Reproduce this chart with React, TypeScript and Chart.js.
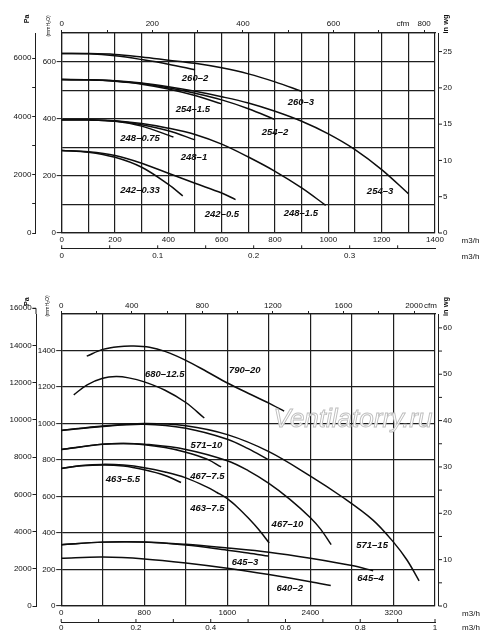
import React, { useEffect, useRef } from "react";
import { Chart, registerables } from "chart.js";
Chart.register(...registerables);

type Pt = [number, number];
type Lbl = [string, number, number];

const PA_PER_MMH2O = 9.80665;
const MMH2O_PER_INWG = 25.4;
const M3H_PER_CFM = 1.699011;
const M3H_PER_M3S = 3600;

// ================= upper chart: flow m3/h, pressure mmH2O =================
const top260_3: Pt[] = [[0, 628], [100, 628], [200, 625], [300, 616], [400, 605], [500, 594], [600, 578], [700, 557], [800, 529], [900, 496]];
const top260_2: Pt[] = [[0, 628], [100, 627], [200, 620], [300, 607], [400, 591], [500, 571]];
const top254_3: Pt[] = [[0, 537], [100, 536], [200, 533], [300, 525], [400, 512], [500, 496], [600, 477], [700, 455], [800, 426], [900, 391], [1000, 347], [1100, 292], [1200, 222], [1300, 138]];
const top254_2: Pt[] = [[0, 537], [100, 536], [200, 532], [300, 523], [400, 508], [500, 489], [600, 466], [700, 435], [800, 397]];
const top254_15: Pt[] = [[0, 537], [100, 536], [200, 531], [300, 521], [400, 504], [500, 481], [600, 452]];
const top248_15: Pt[] = [[0, 396], [100, 396], [200, 393], [300, 383], [400, 367], [500, 345], [600, 311], [700, 266], [800, 216], [900, 158], [990, 97]];
const top248_1: Pt[] = [[0, 396], [100, 396], [200, 392], [300, 379], [400, 358], [500, 326]];
const top248_075: Pt[] = [[0, 396], [100, 396], [200, 391], [300, 374], [419, 336]];
const top242_05: Pt[] = [[0, 289], [100, 284], [200, 271], [300, 244], [400, 209], [500, 174], [600, 140], [652, 117]];
const top242_033: Pt[] = [[0, 289], [100, 283], [200, 265], [300, 230], [400, 170], [454, 130]];

const topCurveLabels: Lbl[] = [
  ["260–2", 500, 540], ["260–3", 897, 456], ["254–1.5", 492, 432], ["254–2", 800, 352],
  ["248–0.75", 294, 331], ["248–1", 496, 265], ["242–0.33", 294, 150], ["242–0.5", 601, 66],
  ["248–1.5", 897, 70], ["254–3", 1194, 146],
];

const topFlowTicks = [0, 100, 200, 300, 400, 500, 600, 700, 800, 900, 1000, 1100, 1200, 1300, 1400];
const topFlowLabels = [0, 200, 400, 600, 800, 1000, 1200, 1400];
const topFlowSTicks = [0, 0.05, 0.1, 0.15, 0.2, 0.25, 0.3, 0.35];
const topFlowSLabels = [0, 0.1, 0.2, 0.3];
const topCfmTicks = [0, 100, 200, 300, 400, 500, 600, 700, 800];
const topCfmLabels = [0, 200, 400, 600, 800];
const topPresTicks = [0, 100, 200, 300, 400, 500, 600, 700];
const topPresLabels = [0, 200, 400, 600];
const topPaTicks = [0, 1000, 2000, 3000, 4000, 5000, 6000];
const topPaLabels = [0, 2000, 4000, 6000];
const topInwgTicks = [0, 5, 10, 15, 20, 25];
const topInwgLabels = [0, 5, 10, 15, 20, 25];

// ================= lower chart =================
const bot790_20: Pt[] = [[246, 1369], [400, 1406], [550, 1421], [700, 1424], [850, 1418], [1000, 1395], [1200, 1346], [1400, 1285], [1600, 1222], [1800, 1166], [2000, 1112], [2147, 1068]];
const bot680_125: Pt[] = [[121, 1157], [250, 1212], [400, 1248], [529, 1257], [650, 1250], [800, 1228], [1000, 1182], [1200, 1115], [1378, 1030]];
const bot571_15: Pt[] = [[0, 962], [400, 986], [800, 1000], [1200, 988], [1600, 939], [2000, 846], [2400, 712], [2700, 600], [3000, 472], [3200, 350], [3330, 252], [3447, 138]];
const bot571_10: Pt[] = [[0, 962], [400, 984], [800, 996], [1200, 974], [1600, 914], [1800, 862], [1990, 803]];
const bot467_10: Pt[] = [[0, 857], [400, 887], [600, 891], [800, 887], [1200, 858], [1600, 796], [1800, 742], [2000, 672], [2200, 586], [2400, 484], [2500, 420], [2600, 336]];
const bot467_75: Pt[] = [[0, 857], [400, 886], [600, 890], [800, 884], [1000, 868], [1200, 843], [1400, 806], [1540, 762]];
const bot463_75: Pt[] = [[0, 754], [200, 770], [400, 776], [600, 772], [800, 758], [1000, 734], [1200, 702], [1400, 653], [1500, 622], [1600, 588], [1700, 540], [1800, 483], [1900, 420], [2003, 345]];
const bot463_55: Pt[] = [[0, 754], [200, 768], [400, 773], [600, 767], [800, 746], [1000, 715], [1154, 677]];
const bot645_4: Pt[] = [[0, 336], [400, 350], [800, 351], [1200, 338], [1600, 318], [2000, 295], [2400, 262], [2800, 222], [3004, 193]];
const bot645_3: Pt[] = [[0, 336], [400, 350], [800, 350], [1200, 334], [1600, 306], [1800, 291], [1995, 274]];
const bot640_2: Pt[] = [[0, 262], [400, 268], [800, 258], [1200, 236], [1600, 207], [2000, 172], [2400, 133], [2596, 112]];

const botCurveLabels: Lbl[] = [
  ["790–20", 1768, 1289], ["680–12.5", 997, 1269], ["571–10", 1399, 878], ["467–7.5", 1408, 712],
  ["463–5.5", 595, 694], ["463–7.5", 1408, 533], ["467–10", 2179, 446], ["571–15", 2994, 332],
  ["645–3", 1770, 237], ["645–4", 2979, 149], ["640–2", 2201, 94],
];

const botFlowTicks = [0, 400, 800, 1200, 1600, 2000, 2400, 2800, 3200, 3600];
const botFlowLabels = [0, 800, 1600, 2400, 3200];
const botFlowSTicks = [0, 0.1, 0.2, 0.3, 0.4, 0.5, 0.6, 0.7, 0.8, 0.9, 1];
const botFlowSLabels = [0, 0.2, 0.4, 0.6, 0.8, 1];
const botCfmTicks = [0, 200, 400, 600, 800, 1000, 1200, 1400, 1600, 1800, 2000];
const botCfmLabels = [0, 400, 800, 1200, 1600, 2000];
const botPresTicks = [0, 200, 400, 600, 800, 1000, 1200, 1400, 1600];
const botPresLabels = [0, 200, 400, 600, 800, 1000, 1200, 1400];
const botPaTicks = [0, 2000, 4000, 6000, 8000, 10000, 12000, 14000, 16000];
const botPaLabels = [0, 2000, 4000, 6000, 8000, 10000, 12000, 14000, 16000];
const botInwgTicks = [0, 5, 10, 15, 20, 25, 30, 35, 40, 45, 50, 55, 60];
const botInwgLabels = [0, 10, 20, 30, 40, 50, 60];

// ================= styling =================
const FONT = "'Liberation Sans', Arial, Helvetica, sans-serif";
const GRID = "#1e1e1e";
const AXIS = "#1e1e1e";
const TXT = "#111";
const CURVE = "#0d0d0d";

type Txt = { t: string; x: number; y: number; rot?: number; size: number; bold?: boolean };

interface Spec {
  key: string;
  top: number;
  h: number;
  xMax: number;
  yMax: number;
  series: Pt[][];
  labels: Lbl[];
  flowTicks: number[]; flowLabels: number[];
  flowSTicks: number[]; flowSLabels: number[];
  cfmTicks: number[]; cfmLabels: number[];
  presTicks: number[]; presLabels: number[];
  paTicks: number[]; paLabels: number[];
  inwgTicks: number[]; inwgLabels: number[];
  L: { ypW: number; yW: number; yrW: number; xtH: number; xH: number; xsH: number; xtPad: number; xPad: number; xsPad: number };
  texts: Txt[];
  watermark?: boolean;
}

const topSpec: Spec = {
  key: "top", top: 0, h: 290, xMax: 1400, yMax: 700,
  series: [top260_3, top260_2, top254_3, top254_2, top254_15, top248_15, top248_1, top248_075, top242_05, top242_033],
  labels: topCurveLabels,
  flowTicks: topFlowTicks, flowLabels: topFlowLabels,
  flowSTicks: topFlowSTicks, flowSLabels: topFlowSLabels,
  cfmTicks: topCfmTicks, cfmLabels: topCfmLabels,
  presTicks: topPresTicks, presLabels: topPresLabels,
  paTicks: topPaTicks, paLabels: topPaLabels,
  inwgTicks: topInwgTicks, inwgLabels: topInwgLabels,
  L: { ypW: 35.7, yW: 26, yrW: 65, xtH: 33, xH: 15.3, xsH: 41.7, xtPad: 1.2, xPad: 2.2, xsPad: 2.9 },
  texts: [
    { t: "Pa", x: 27.5, y: 19, rot: -90, size: 7, bold: true },
    { t: "(mmH₂O)", x: 49, y: 26, rot: -90, size: 5 },
    { t: "in wg", x: 446, y: 24, rot: -90, size: 7.5, bold: true },
    { t: "cfm", x: 403, y: 24, size: 8 },
    { t: "m3/h", x: 470.5, y: 240.5, size: 8 },
    { t: "m3/h", x: 470.5, y: 256.5, size: 8 },
  ],
};

const botSpec: Spec = {
  key: "bot", top: 290, h: 354, xMax: 3600, yMax: 1600,
  series: [bot790_20, bot680_125, bot571_15, bot571_10, bot467_10, bot467_75, bot463_75, bot463_55, bot645_4, bot645_3, bot640_2],
  labels: botCurveLabels,
  flowTicks: botFlowTicks, flowLabels: botFlowLabels,
  flowSTicks: botFlowSTicks, flowSLabels: botFlowSLabels,
  cfmTicks: botCfmTicks, cfmLabels: botCfmLabels,
  presTicks: botPresTicks, presLabels: botPresLabels,
  paTicks: botPaTicks, paLabels: botPaLabels,
  inwgTicks: botInwgTicks, inwgLabels: botInwgLabels,
  L: { ypW: 36, yW: 25.2, yrW: 65, xtH: 24, xH: 16, xsH: 22, xtPad: 0.5, xPad: 2.2, xsPad: 0.6 },
  texts: [
    { t: "Pa", x: 27.5, y: 11.7, rot: -90, size: 7, bold: true },
    { t: "(mmH₂O)", x: 47.5, y: 16, rot: -90, size: 5 },
    { t: "in wg", x: 445.5, y: 16.5, rot: -90, size: 7.5, bold: true },
    { t: "cfm", x: 430.5, y: 15.7, size: 8 },
    { t: "m3/h", x: 471, y: 323.3, size: 8 },
    { t: "m3/h", x: 471, y: 337.7, size: 8 },
  ],
  watermark: true,
};

const isLab = (v: number, arr: number[]) => v !== undefined && arr.some((l) => Math.abs(l - v) < 1e-6);
const fmt = (v: number) => String(Math.round(v * 1000) / 1000);

function buildConfig(s: Spec): any {
  const tickFont = { family: FONT, size: 8 };
  const lab = (arr: number[]) => (v: any) => (isLab(Number(v), arr) ? fmt(Number(v)) : "");
  const setTicks = (arr: number[]) => (sc: any) => {
    sc.ticks = arr.map((v) => ({ value: v }));
  };
  const base = { type: "linear", bounds: "data", min: 0 };
  const tk = (pad: number, arr: number[]) => ({ autoSkip: false, maxRotation: 0, minRotation: 0, padding: pad, font: tickFont, color: TXT, callback: lab(arr) });
  const GW = 1.2;

  const scales: any = {
    x: {
      ...base, position: "bottom", weight: 0, max: s.xMax,
      afterBuildTicks: setTicks(s.flowTicks),
      afterFit: (sc: any) => { sc.height = s.L.xH; },
      grid: { color: GRID, lineWidth: GW, drawTicks: false },
      border: { color: GRID, width: GW },
      ticks: tk(s.L.xPad, s.flowLabels),
    },
    xs: {
      ...base, position: "bottom", weight: 1, max: s.xMax / M3H_PER_M3S,
      afterBuildTicks: setTicks(s.flowSTicks),
      afterFit: (sc: any) => { sc.height = s.L.xsH; },
      grid: { display: false, drawTicks: false },
      border: { display: true, color: AXIS, width: 1 },
      ticks: tk(s.L.xsPad, s.flowSLabels),
    },
    xt: {
      ...base, position: "top", max: s.xMax / M3H_PER_CFM,
      afterBuildTicks: setTicks(s.cfmTicks),
      afterFit: (sc: any) => { sc.height = s.L.xtH; },
      grid: { drawOnChartArea: false, drawTicks: true, tickLength: 3, color: AXIS, lineWidth: 1 },
      border: { display: true, color: AXIS, width: GW },
      ticks: tk(s.L.xtPad, s.cfmLabels),
    },
    y: {
      ...base, position: "left", weight: 0, max: s.yMax,
      afterBuildTicks: setTicks(s.presTicks),
      afterFit: (sc: any) => { sc.width = s.L.yW; },
      grid: {
        color: GRID, lineWidth: GW, drawTicks: true, tickLength: 5, tickWidth: 1,
        tickColor: (c: any) => (c.tick && isLab(c.tick.value, s.presLabels) ? AXIS : "rgba(0,0,0,0)"),
      },
      border: { color: GRID, width: GW },
      ticks: tk(0.7, s.presLabels),
    },
    yp: {
      ...base, position: "left", weight: 1, max: s.yMax * PA_PER_MMH2O,
      afterBuildTicks: setTicks(s.paTicks),
      afterFit: (sc: any) => { sc.width = s.L.ypW; },
      grid: { drawOnChartArea: false, drawTicks: true, tickLength: 3.5, color: AXIS, lineWidth: 1 },
      border: { display: true, color: AXIS, width: 1 },
      ticks: tk(0.8, s.paLabels),
    },
    yr: {
      ...base, position: "right", max: s.yMax / MMH2O_PER_INWG,
      afterBuildTicks: setTicks(s.inwgTicks),
      afterFit: (sc: any) => { sc.width = s.L.yrW; },
      grid: { display: false, drawTicks: false },
      border: { display: false },
      ticks: tk(8, s.inwgLabels),
    },
  };

  const annot = {
    id: "annot_" + s.key,
    afterDraw(chart: any) {
      const { ctx, chartArea: a, scales: sc } = chart;
      ctx.save();
      ctx.strokeStyle = AXIS;
      ctx.lineWidth = 1;
      // right (in wg) axis line + ticks, slightly off the plot edge
      const ax = a.right + 3.5;
      ctx.beginPath();
      ctx.moveTo(ax, a.top);
      ctx.lineTo(ax, a.bottom);
      sc.yr.ticks.forEach((t: any) => {
        const py = sc.yr.getPixelForValue(t.value);
        ctx.moveTo(ax, py);
        ctx.lineTo(ax + 3.5, py);
      });
      // m3/s axis: small upward ticks
      sc.xs.ticks.forEach((t: any) => {
        const px = sc.xs.getPixelForValue(t.value);
        ctx.moveTo(px, sc.xs.top);
        ctx.lineTo(px, sc.xs.top - 3);
      });
      // Pa axis extension above plot (when its last tick lies above)
      const lastPa = s.paTicks[s.paTicks.length - 1];
      const pyPa = sc.yp.getPixelForValue(lastPa);
      if (pyPa < a.top - 0.5) {
        ctx.moveTo(sc.yp.right, a.top);
        ctx.lineTo(sc.yp.right, pyPa);
        ctx.moveTo(sc.yp.right - 3.5, pyPa);
        ctx.lineTo(sc.yp.right, pyPa);
      }
      ctx.stroke();

      // curve labels
      ctx.fillStyle = CURVE;
      ctx.font = `italic bold 9.5px ${FONT}`;
      ctx.textAlign = "center";
      ctx.textBaseline = "middle";
      s.labels.forEach(([t, x, y]) => {
        ctx.fillText(t, sc.x.getPixelForValue(x), sc.y.getPixelForValue(y));
      });

      // axis titles / units
      ctx.fillStyle = TXT;
      s.texts.forEach((tx) => {
        ctx.save();
        ctx.font = `${tx.bold ? "bold " : ""}${tx.size}px ${FONT}`;
        ctx.translate(tx.x, tx.y);
        if (tx.rot) ctx.rotate((tx.rot * Math.PI) / 180);
        ctx.textAlign = "center";
        ctx.textBaseline = "middle";
        ctx.fillText(tx.t, 0, 0);
        ctx.restore();
      });

      if (s.watermark) {
        ctx.font = `italic 26px ${FONT}`;
        ctx.textAlign = "center";
        ctx.textBaseline = "alphabetic";
        ctx.fillStyle = "rgba(255,255,255,0.9)";
        ctx.fillText("Ventilatorry.ru", 353, 136.6);
        ctx.strokeStyle = "#bdbdbd";
        ctx.lineWidth = 0.9;
        ctx.strokeText("Ventilatorry.ru", 353, 136.6);
      }
      ctx.restore();
    },
  };

  return {
    type: "line",
    data: {
      datasets: s.series.map((pts) => ({
        data: pts.map(([x, y]) => ({ x, y })),
        borderColor: CURVE,
        borderWidth: 1.5,
        pointRadius: 0,
        fill: false,
        tension: 0.35,
        xAxisID: "x",
        yAxisID: "y",
      })),
    },
    options: {
      responsive: false,
      animation: false,
      events: [],
      layout: { padding: 0 },
      plugins: { legend: { display: false }, tooltip: { enabled: false }, title: { display: false } },
      scales,
    },
    plugins: [annot],
  };
}

function FanChart({ spec }: { spec: Spec }) {
  const ref = useRef<HTMLCanvasElement>(null);
  useEffect(() => {
    if (!ref.current) return;
    const chart = new Chart(ref.current, buildConfig(spec));
    return () => chart.destroy();
  }, [spec]);
  return (
    <canvas
      ref={ref}
      width={500}
      height={spec.h}
      style={{ position: "absolute", left: 0, top: spec.top, width: 500, height: spec.h }}
    />
  );
}

export default function App() {
  return (
    <div style={{ position: "absolute", left: 0, top: 0, width: 500, height: 644, background: "#fff", overflow: "hidden" }}>
      <FanChart spec={topSpec} />
      <FanChart spec={botSpec} />
    </div>
  );
}
